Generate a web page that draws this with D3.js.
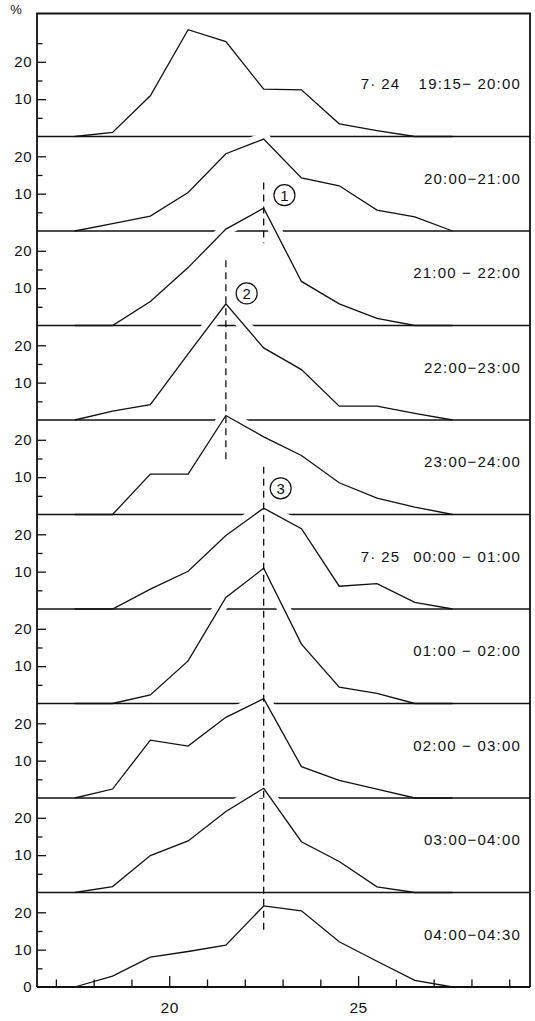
<!DOCTYPE html>
<html>
<head>
<meta charset="utf-8">
<script src="https://cdn.jsdelivr.net/npm/d3@7"></script>
<style>
	html, body { margin: 0; padding: 0; background: #fff; }
	svg { display: block; }
	text { font-family: "Liberation Sans", Arial, sans-serif; fill: #111; }
</style>
</head>
<body>
<div id="app"></div>
<script>

// class mid points (x) shared by every panel
const sizes = [17.5, 18.5, 19.5, 20.5, 21.5, 22.5, 23.5, 24.5, 25.5, 26.5, 27.5];

// percentages per panel, top to bottom
const p1924 = [0, 1.1, 10.9, 28.6, 25.4, 12.7, 12.5, 3.4, 1.6, 0, 0];
const p2021 = [0, 2.0, 4.0, 10.3, 20.7, 24.6, 14.2, 12.1, 5.6, 3.8, 0];
const p2122 = [0, 0, 6.4, 15.5, 25.8, 31.4, 11.8, 5.8, 1.9, 0, 0];
const p2223 = [0, 2.4, 4.1, 17.7, 31.1, 19.3, 13.5, 3.7, 3.7, 1.8, 0];
const p2324 = [0, 0, 10.8, 10.8, 26.5, 20.8, 15.8, 8.5, 4.4, 2.0, 0];
const p0001 = [0, 0, 5.3, 10.1, 19.7, 27.0, 21.5, 6.1, 6.8, 1.8, 0];
const p0102 = [0, 0, 2.3, 11.4, 28.4, 36.2, 15.9, 4.4, 2.7, 0, 0];
const p0203 = [0, 2.4, 15.5, 13.9, 21.6, 26.6, 8.4, 4.7, 2.4, 0, 0];
const p0304 = [0, 1.6, 9.9, 13.8, 21.7, 27.9, 13.6, 8.3, 1.5, 0, 0];
const p0405 = [0, 2.9, 8.0, 9.5, 11.2, 21.7, 20.4, 12.1, 6.9, 1.8, 0];

const series = [p1924, p2021, p2122, p2223, p2324, p0001, p0102, p0203, p0304, p0405];

const timeLabels = ['19:15\u2212 20:00', '20:00\u221221:00', '21:00 \u2212 22:00', '22:00\u221223:00',
	'23:00\u221224:00', '00:00 \u2212 01:00', '01:00 \u2212 02:00', '02:00 \u2212 03:00',
	'03:00\u221204:00', '04:00\u221204:30'];
const dateLabels = ['7\u00b7 24', '', '', '', '', '7\u00b7 25', '', '', '', ''];

// dashed guide lines: x, [panel, %] top, [panel, %] bottom
const guideX = [22.5, 21.5, 22.5];
const guideTop = [[1, 13], [2, 17.5], [4, 12.8]];
const guideBottom = [[2, 22], [4, 14], [9, 15]];
const guideNames = ['1', '2', '3'];
const guideMark = [[1, 23.05, 9.6], [2, 22.05, 8.6], [4, 22.95, 7.0]];

const yMajor = [10, 20];
const yMinor = [5, 15];
const xMajor = [20, 25];
const xMinor = [17, 18, 19, 21, 22, 23, 24, 26, 27, 28, 29];

const chart = () => {

	const width = 535,
		height = 1021,
		left = 37,
		right = 530,
		top = 13.5,
		firstBase = 136.5,
		step = 94.5;

	const baseY = i => firstBase + step * i;

	const x = d3.scaleLinear()
		.domain([16.5, 29.55])
		.range([left, right]);

	// same % scale in every panel, 0 at the panel baseline
	const y = d3.scaleLinear()
		.domain([0, 25.3])
		.range([0, -step]);

	const svg = d3.select('#app').append('svg')
		.attr('width', width)
		.attr('height', height);

	const line = d3.line()
		.x((d, i) => x(sizes[i]))
		.y(d => y(d));

	svg.append('clipPath')
		.attr('id', 'band')
	.append('rect')
		.attr('x', left)
		.attr('y', -step - 2)
		.attr('width', right - left)
		.attr('height', 4);

	// baselines / panel separators
	svg.append('g').selectAll('line')
		.data(series)
		.join('line')
		.attr('x1', left)
		.attr('x2', right)
		.attr('y1', (d, i) => baseY(i))
		.attr('y2', (d, i) => baseY(i))
		.attr('stroke', '#111')
		.attr('stroke-width', (d, i) => i === series.length - 1 ? 1.8 : 1.3);

	const panels = svg.selectAll('g.panel')
		.data(series)
		.join('g')
		.attr('class', 'panel')
		.attr('transform', (d, i) => `translate(0,${ baseY(i) })`);

	// white gap where a curve cuts through the line above it
	panels.filter((d, i) => i > 0).append('path')
		.attr('d', d => line(d))
		.attr('fill', 'none')
		.attr('stroke', '#fff')
		.attr('stroke-width', 13)
		.attr('clip-path', 'url(#band)');

	panels.append('path')
		.attr('d', d => line(d))
		.attr('fill', 'none')
		.attr('stroke', '#111')
		.attr('stroke-width', 1.3)
		.attr('stroke-linejoin', 'miter');

	// left axis, major and minor ticks per panel
	panels.each(function (d, i) {
		const g = d3.select(this);
		const minor = i === 0 ? yMinor.concat([25]) : yMinor;
		const major = i === series.length - 1 ? [0].concat(yMajor) : yMajor;

		g.append('g')
			.attr('transform', `translate(${ left },0)`)
			.call(d3.axisLeft(y).tickValues(minor).tickSize(-5.5).tickFormat(''))
			.call(a => a.select('.domain').remove());

		g.append('g')
			.attr('transform', `translate(${ left },0)`)
			.call(d3.axisLeft(y).tickValues(major).tickSize(-9).tickPadding(7).tickFormat(d3.format('d')))
			.call(a => a.select('.domain').remove())
			.call(a => a.selectAll('line').filter(v => v === 0).remove())
			.call(a => a.selectAll('text')
				.style('font-size', '15px')
				.style('letter-spacing', '0.5px')
				.attr('x', -5));

		g.append('text')
			.attr('x', 521)
			.attr('y', y(12.6))
			.attr('text-anchor', 'end')
			.style('font-size', '15px')
			.style('letter-spacing', '1.2px')
			.style('white-space', 'pre')
			.text(timeLabels[i]);

		if (dateLabels[i]) {
			g.append('text')
				.attr('x', 400)
				.attr('y', y(12.6))
				.attr('text-anchor', 'end')
				.style('font-size', '15px')
				.style('letter-spacing', '1px')
				.style('white-space', 'pre')
				.text(dateLabels[i]);
		}
	});

	// bottom axis
	const xAxis = svg.append('g')
		.attr('transform', `translate(0,${ baseY(series.length - 1) })`);
	xAxis.append('g')
		.call(d3.axisBottom(x).tickValues(xMinor).tickSize(-7.5).tickFormat(''))
		.call(a => a.select('.domain').remove());
	xAxis.append('g')
		.call(d3.axisBottom(x).tickValues(xMajor).tickSize(-11).tickPadding(15).tickFormat(d3.format('d')))
		.call(a => a.select('.domain').remove())
		.call(a => a.selectAll('text')
			.style('font-size', '15.5px')
			.style('letter-spacing', '0.5px'));
	svg.selectAll('.tick line').attr('stroke', '#111').attr('stroke-width', 1.3);

	// frame
	svg.append('path')
		.attr('d', `M${ left },${ baseY(series.length - 1) }V${ top }H${ right }V${ baseY(series.length - 1) }`)
		.attr('fill', 'none')
		.attr('stroke', '#111')
		.attr('stroke-width', 1.8);

	svg.append('text')
		.attr('x', 16)
		.attr('y', 14)
		.attr('text-anchor', 'middle')
		.style('font-size', '13px')
		.text('%');

	// dashed guides through the peaks
	const guideY = ([p, v]) => baseY(p) + y(v);
	svg.append('g').selectAll('line')
		.data(guideX)
		.join('line')
		.attr('x1', d => x(d))
		.attr('x2', d => x(d))
		.attr('y1', (d, i) => guideY(guideTop[i]))
		.attr('y2', (d, i) => guideY(guideBottom[i]))
		.attr('stroke', '#111')
		.attr('stroke-width', 1.3)
		.attr('stroke-dasharray', '7,5');

	const marks = svg.append('g').selectAll('g')
		.data(guideMark)
		.join('g')
		.attr('transform', d => `translate(${ x(d[1]) },${ baseY(d[0]) + y(d[2]) })`);
	marks.append('circle')
		.attr('r', 10.5)
		.attr('fill', '#fff')
		.attr('stroke', '#111')
		.attr('stroke-width', 1.2);
	marks.append('text')
		.attr('text-anchor', 'middle')
		.attr('dy', '0.36em')
		.style('font-size', '15px')
		.text((d, i) => guideNames[i]);

};

chart();

</script>
</body>
</html>
